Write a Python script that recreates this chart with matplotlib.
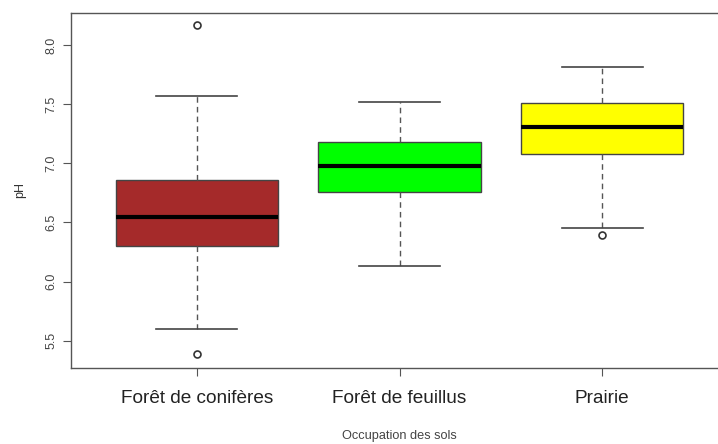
import matplotlib
matplotlib.use('Agg')
import matplotlib.pyplot as plt

plt.rcParams['font.family'] = ['Liberation Sans', 'DejaVu Sans']

categories = ['Forêt de conifères', 'Forêt de feuillus', 'Prairie']
q1 = [6.30, 6.76, 7.08]
med = [6.55, 6.98, 7.31]
q3 = [6.86, 7.18, 7.51]
whislo = [5.60, 6.13, 6.45]
whishi = [7.57, 7.52, 7.81]
fliers = [[8.17, 5.39], [], [6.39]]
colors = ['#A52A2A', '#00FF00', '#FFFF00']

stats = []
for i in range(len(categories)):
    stats.append({'label': categories[i], 'q1': q1[i], 'med': med[i], 'q3': q3[i],
                  'whislo': whislo[i], 'whishi': whishi[i], 'fliers': fliers[i]})

fig = plt.figure(figsize=(7.18, 4.44), dpi=100)
ax = fig.add_axes([71/718, 1-368/444, 657/718, 355/444])

bp = ax.bxp(stats, positions=[1, 2, 3], widths=0.8, patch_artist=True,
            showfliers=True,
            boxprops=dict(edgecolor='#444444', linewidth=1),
            medianprops=dict(color='black', linewidth=3, solid_capstyle='butt'),
            whiskerprops=dict(color='#555555', linewidth=1, linestyle=(0, (4, 3))),
            capprops=dict(color='#444444', linewidth=1.2),
            flierprops=dict(marker='o', markersize=5, markerfacecolor='white',
                            markeredgecolor='#333333', markeredgewidth=1.2))
for patch, c in zip(bp['boxes'], colors):
    patch.set_facecolor(c)
for cap in bp['caps']:
    x = cap.get_xdata()
    m = (x[0] + x[1]) / 2
    cap.set_xdata([m - 0.2, m + 0.2])

ax.set_xlim(0.38, 3.62)
ax.set_ylim(5.27, 8.27)
ax.set_yticks([5.5, 6.0, 6.5, 7.0, 7.5, 8.0])
ax.set_yticklabels(['5.5', '6.0', '6.5', '7.0', '7.5', '8.0'], rotation=90, va='center')
ax.set_xticks([1, 2, 3])
ax.set_xticklabels(categories, fontsize=13.7, color='#222222')
ax.tick_params(axis='y', labelsize=9, labelcolor='#444444', length=6, color='#555555', pad=4)
ax.tick_params(axis='x', length=6, color='#555555', pad=10)
for s in ax.spines.values():
    s.set_color('#555555')
    s.set_linewidth(1)

ax.set_ylabel('pH', fontsize=9, color='#333333', labelpad=14)
ax.set_xlabel('Occupation des sols', fontsize=9.2, color='#444444', labelpad=16.5)

fig.savefig('out.png', dpi=100)
